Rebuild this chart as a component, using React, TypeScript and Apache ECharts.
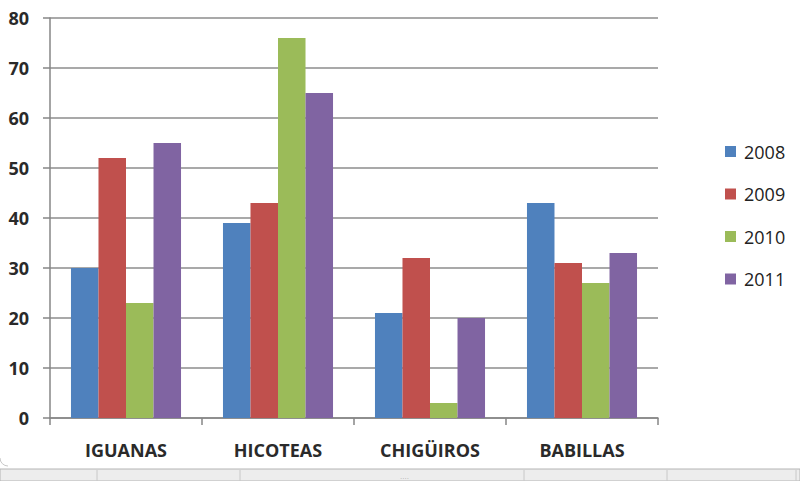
import React, { useEffect, useRef } from "react";
import * as echarts from "echarts";

const categories = ["IGUANAS", "HICOTEAS", "CHIGÜIROS", "BABILLAS"];
const seriesNames = ["2008", "2009", "2010", "2011"];
const values2008 = [30, 39, 21, 43];
const values2009 = [52, 43, 32, 31];
const values2010 = [23, 76, 3, 27];
const values2011 = [55, 65, 20, 33];
const colors = ["#4F81BD", "#C0504D", "#9BBB59", "#8064A2"];
const yTicks = { min: 0, max: 80, interval: 10 };

export default function App() {
  const ref = useRef<HTMLDivElement>(null);
  useEffect(() => {
    if (!ref.current) return;
    const chart = echarts.init(ref.current, null, { renderer: "svg" });
    const data = [values2008, values2009, values2010, values2011];
    const font = "'Open Sans', 'Noto Sans', sans-serif";
    chart.setOption({
      animation: false,
      backgroundColor: "#ffffff",
      textStyle: { fontFamily: font },
      grid: { left: 50, top: 18, width: 608, height: 400, containLabel: false },
      legend: {
        orient: "vertical",
        left: 720,
        top: 137,
        itemGap: 23.5,
        itemWidth: 11,
        itemHeight: 11,
        icon: "rect",
        data: seriesNames,
        textStyle: { fontSize: 18, lineHeight: 19, height: 19, color: "#222", fontFamily: font, padding: [0, 0, 0, 3] },
      },
      xAxis: {
        type: "category",
        data: categories,
        axisLine: { lineStyle: { color: "#868686", width: 1.5 } },
        axisTick: { show: true, length: 7, alignWithLabel: false, lineStyle: { color: "#868686", width: 1.5 } },
        axisLabel: { fontSize: 18, fontWeight: "bold", color: "#2a2a2a", margin: 23, fontFamily: font },
      },
      yAxis: {
        type: "value",
        min: yTicks.min,
        max: yTicks.max,
        interval: yTicks.interval,
        axisLine: { show: true, lineStyle: { color: "#868686", width: 1.5 } },
        axisTick: { show: true, length: 7, lineStyle: { color: "#868686", width: 1.5 } },
        axisLabel: { fontSize: 18, fontWeight: "bold", color: "#2a2a2a", margin: 21, fontFamily: font },
        splitLine: { show: true, lineStyle: { color: "#8c8c8c", width: 1.5 } },
      },
      series: seriesNames.map((name, i) => ({
        name,
        type: "bar",
        data: data[i],
        barGap: "0%",
        barCategoryGap: "27.6%",
        itemStyle: { color: colors[i] },
      })),
      graphic: [
        {
          type: "rect",
          shape: { x: 0, y: 469, width: 800, height: 12 },
          style: { fill: "#ededed", stroke: "#b4b4b4", lineWidth: 1 },
          silent: true,
        },
        ...[97, 240, 524, 667, 796].map((x) => ({
          type: "line",
          shape: { x1: x, y1: 470, x2: x, y2: 481 },
          style: { stroke: "#c8c8c8", lineWidth: 1 },
          silent: true,
        })),
        {
          type: "text",
          x: 400,
          y: 472,
          style: { text: "....", fontSize: 8, fill: "#b0b0b0" },
          silent: true,
        },
        {
          type: "arc",
          shape: { cx: 8, cy: 458, r: 8, startAngle: Math.PI / 2, endAngle: Math.PI },
          style: { stroke: "#c8c8c8", lineWidth: 1, fill: "none" },
          silent: true,
        },
      ],
    });
    return () => chart.dispose();
  }, []);
  return <div ref={ref} style={{ width: 800, height: 481, position: "absolute", left: 0, top: 0 }} />;
}
